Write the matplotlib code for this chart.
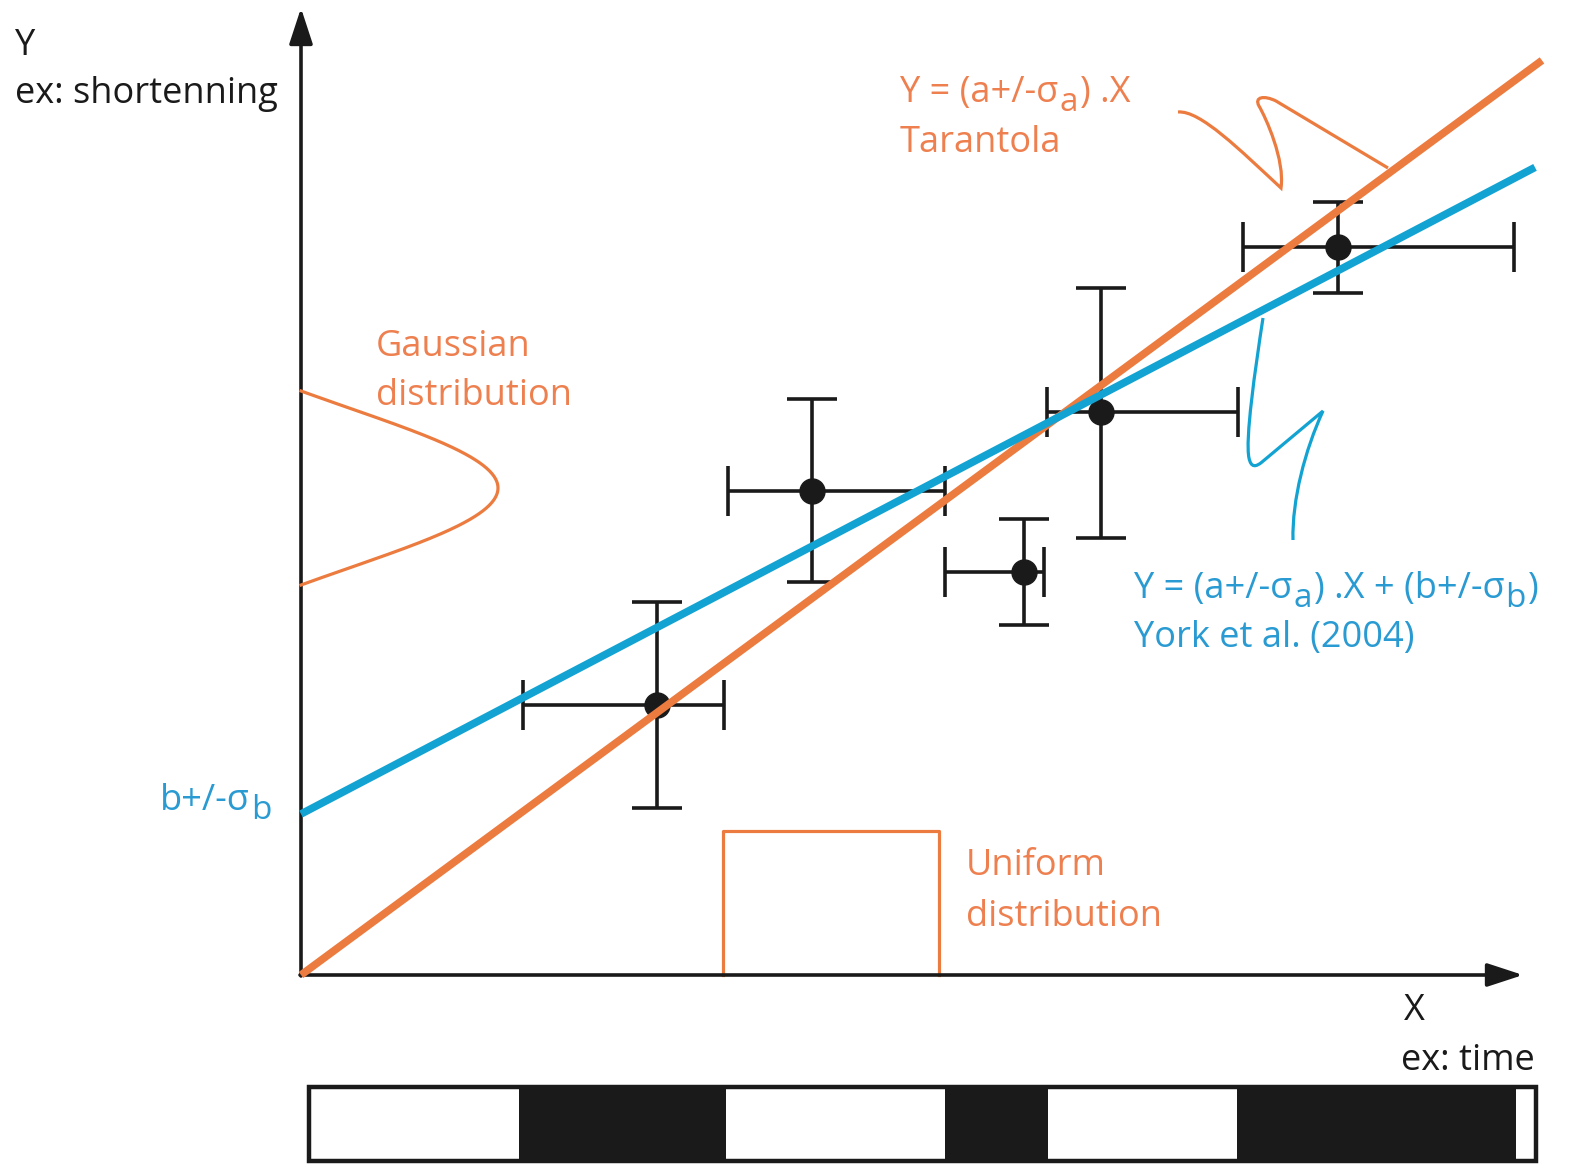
import numpy as np
import matplotlib
matplotlib.use("Agg")
import matplotlib.pyplot as plt
from matplotlib.path import Path
from matplotlib.patches import PathPatch, Rectangle

FONT = 'Open Sans'
plt.rcParams['font.family'] = [FONT, 'DejaVu Sans']

ORANGE = '#EC7B3F'
ORANGE_TXT = '#EE8050'
BLUE = '#12A3D2'
BLUE_TXT = '#2A9BD2'
BLACK = '#1a1a1a'

# measured points (units: 1 = 100 px of the original figure)
pt_x = [3.56, 5.11, 7.23, 8.00, 10.37]
pt_y = [2.70, 4.84, 4.03, 5.63, 7.28]
x_lo = [2.22, 4.27, 6.44, 7.46, 9.42]
x_hi = [4.23, 6.44, 7.43, 9.37, 12.13]
y_lo = [1.67, 3.93, 3.50, 4.37, 6.82]
y_hi = [3.73, 5.76, 4.56, 6.87, 7.73]

# fitted lines
tar_slope = 0.737
tar_xmax = 12.41
york_slope = 0.524
york_icpt = 1.61
york_xmax = 12.34

# distributions sketched on the axes
gauss_center = 4.87
gauss_half = 0.97
gauss_sigma = 0.8
gauss_peak = 1.97
unif_lo, unif_hi, unif_h = 4.22, 6.38, 1.44

# time scale bar at the bottom
bar_edges = [0.08, 2.18, 4.25, 6.44, 7.47, 9.36, 12.15, 12.35]
bar_cols = ['white', BLACK, 'white', BLACK, 'white', BLACK, 'white']
bar_y, bar_h = -1.86, 0.74

W, H = 1576, 1168
X0, Y0 = 301, 975


def px(x, y):
    # original pixel position -> data units
    return ((x - X0) / 100.0, (Y0 - y) / 100.0)


fig = plt.figure(figsize=(W / 100, H / 100), dpi=100)
ax = fig.add_axes([0, 0, 1, 1])
ax.set_xlim(-X0 / 100, (W - X0) / 100)
ax.set_ylim((Y0 - H) / 100, Y0 / 100)
ax.axis('off')

# axes with arrows
arrow = dict(arrowstyle='-|>,head_length=1.1,head_width=0.36', lw=2.6,
             color=BLACK, shrinkA=0, shrinkB=0, mutation_scale=20)
ax.annotate('', xy=(0, 9.67), xytext=(0, -0.01), arrowprops=arrow, zorder=3)
ax.annotate('', xy=(12.22, 0), xytext=(-0.01, 0), arrowprops=arrow, zorder=3)

# data with error bars
pt_x = np.array(pt_x); pt_y = np.array(pt_y)
xerr = [pt_x - np.array(x_lo), np.array(x_hi) - pt_x]
yerr = [pt_y - np.array(y_lo), np.array(y_hi) - pt_y]
ax.errorbar(pt_x, pt_y, xerr=xerr, yerr=yerr, fmt='o', color=BLACK, ms=18,
            elinewidth=2.6, capsize=18, capthick=2.6, zorder=2)

# fits
xs = np.array([0, tar_xmax])
ax.plot(xs, tar_slope * xs, color=ORANGE, lw=5.5, solid_capstyle='butt', zorder=4)
xs = np.array([0, york_xmax])
ax.plot(xs, york_icpt + york_slope * xs, color=BLUE, lw=5.5, solid_capstyle='butt', zorder=4)

# gaussian on the y axis
yy = np.linspace(gauss_center - gauss_half, gauss_center + gauss_half, 300)
g = np.exp(-(yy - gauss_center) ** 2 / (2 * gauss_sigma ** 2))
g0 = np.exp(-gauss_half ** 2 / (2 * gauss_sigma ** 2))
ax.plot(gauss_peak * (g - g0) / (1 - g0), yy, color=ORANGE, lw=2.3, zorder=3)

# uniform box on the x axis
ax.plot([unif_lo, unif_lo, unif_hi, unif_hi], [0, unif_h, unif_h, 0],
        color=ORANGE, lw=2.3, zorder=1)

# squiggly leaders
sq_orange = [((1178, 112), Path.MOVETO), ((1200, 110), Path.CURVE4), ((1240, 150), Path.CURVE4),
             ((1281, 188), Path.CURVE4), ((1285, 160), Path.CURVE4), ((1266, 118), Path.CURVE4),
             ((1259, 106), Path.CURVE4), ((1254, 97), Path.CURVE4), ((1264, 95), Path.CURVE4),
             ((1276, 101), Path.CURVE4), ((1388, 168), Path.LINETO)]
sq_blue = [((1263, 318), Path.MOVETO), ((1255, 370), Path.CURVE4), ((1245, 440), Path.CURVE4),
           ((1249, 458), Path.CURVE4), ((1251, 468), Path.CURVE4), ((1256, 467), Path.CURVE4),
           ((1262, 462), Path.CURVE4), ((1323, 411), Path.LINETO), ((1305, 450), Path.CURVE4),
           ((1292, 500), Path.CURVE4), ((1293, 540), Path.CURVE4)]
for pts, col in [(sq_orange, ORANGE), (sq_blue, BLUE)]:
    verts = [px(*p) for p, c in pts]
    codes = [c for p, c in pts]
    ax.add_patch(PathPatch(Path(verts, codes), fill=False, edgecolor=col, lw=2.3, zorder=3))

# time bar
for i, c in enumerate(bar_cols):
    ax.bar(bar_edges[i], bar_h, width=bar_edges[i + 1] - bar_edges[i], bottom=bar_y,
           align='edge', color=c, lw=0)
ax.add_patch(Rectangle((bar_edges[0], bar_y), bar_edges[-1] - bar_edges[0], bar_h,
                       fill=False, edgecolor=BLACK, lw=3.2, zorder=5))

# labels
FS = 26
renderer = fig.canvas.get_renderer()


def label(x, y, s, col, ha='left'):
    ax.text(*px(x, y), s, color=col, fontsize=FS, ha=ha, va='baseline')


def rich(x, y, parts, col, gap=2):
    # parts alternate normal text / subscript letter
    cur = x
    for k, s in enumerate(parts):
        sub = k % 2 == 1
        t = fig.text(cur / W, 1 - (y + (9 if sub else 0)) / H, s, color=col,
                     fontsize=FS * 0.92 if sub else FS, va='baseline')
        cur = t.get_window_extent(renderer).x1 + (gap if sub else 1)


label(15, 55, 'Y', BLACK)
label(15, 103, 'ex: shortenning', BLACK)
label(1404, 1020, 'X', BLACK)
label(1535, 1070, 'ex: time', BLACK, ha='right')
rich(900, 102, ['Y = (a+/-σ', 'a', ') .X'], ORANGE_TXT)
label(900, 152, 'Tarantola', ORANGE_TXT)
label(376, 356, 'Gaussian', ORANGE_TXT)
label(376, 405, 'distribution', ORANGE_TXT)
label(966, 875, 'Uniform', ORANGE_TXT)
label(966, 926, 'distribution', ORANGE_TXT)
rich(1134, 598, ['Y = (a+/-σ', 'a', ') .X + (b+/-σ', 'b', ')'], BLUE_TXT)
label(1134, 647, 'York et al. (2004)', BLUE_TXT)
rich(160, 810, ['b+/-σ', 'b'], BLUE_TXT)

fig.savefig('out.png', dpi=100)
